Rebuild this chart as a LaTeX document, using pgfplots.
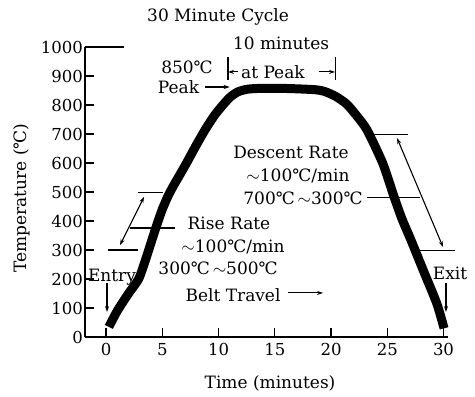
\documentclass[border=0pt]{standalone}
\usepackage{fontspec}
\setmainfont{DejaVu Serif}
\usepackage{pgfplots}
\pgfplotsset{compat=1.18}
\usetikzlibrary{arrows.meta}
\newcommand{\dC}{℃}
\tikzset{
  annot/.style={line width=1.1pt},
  arr/.style={line width=1.1pt, -{Stealth[length=6pt,width=4pt]}},
  darr/.style={line width=1.1pt, {Stealth[length=6pt,width=4pt]}-{Stealth[length=6pt,width=4pt]}},
}
\begin{document}
\begin{tikzpicture}[font=\fontsize{17}{20}\selectfont]
\begin{axis}[
  scale only axis, width=363pt, height=290pt,
  xmin=-1.87, xmax=30.4, ymin=0, ymax=1000,
  axis x line=bottom, axis y line=left,
  axis line style={-, line width=1.2pt},
  xtick={0,5,...,30}, ytick={0,100,...,1000},
  tick align=inside, major tick length=9pt,
  tick style={line width=1.2pt, black},
  clip=false,
  /pgf/number format/assume math mode=true,
  /pgf/number format/1000 sep={},
  ticklabel style={font=\fontsize{16.5}{19}\selectfont},
  yticklabel style={inner sep=2pt},
  xticklabel style={yshift=-3pt},
]
\addplot[black, line width=9pt, smooth, tension=0.4] coordinates {
(0.25,35) (1.0,90) (2.0,150) (2.9,200) (3.5,265) (4.0,325) (4.5,385) (5.0,440)
(5.5,485) (6.0,522) (6.6,562) (7.2,603) (8.0,660) (8.8,714) (9.6,762) (10.3,796)
(11.0,826) (11.7,845) (12.5,854) (13.5,857) (16,857) (18.5,853)
(19.4,847) (20.4,830) (21.4,803) (22.3,762) (23.2,714) (24.6,599) (25.6,484)
(26.3,408) (27.1,335) (28.2,230) (29.4,116) (30.05,30)
};
% longer top tick
\draw[line width=1.8pt] (axis cs:-1.87,1000) -- ++(18pt,0);
% title and labels
\node at (axis cs:9.96,1103) {30 Minute Cycle};
\node at (axis cs:14.58,-159) {Time (minutes)};
\node[rotate=90] at (axis cs:-7.47,479) {Temperature (\dC)};
% peak annotations
\node at (axis cs:7.2,931) {850\dC};
\node at (axis cs:6.44,862) {Peak};
\draw[arr] (axis cs:8.8,862) -- (axis cs:11.0,862);
\node at (axis cs:15.56,1014) {10 minutes};
\node at (axis cs:14.84,914) {at Peak};
\draw[annot] (axis cs:10.84,966) -- (axis cs:10.84,886);
\draw[arr] (axis cs:11.7,914) -- (axis cs:10.84,914);
\draw[annot] (axis cs:20.36,966) -- (axis cs:20.36,886);
\draw[arr] (axis cs:18.9,914) -- (axis cs:20.36,914);
% descent annotations
\node at (axis cs:16.44,636) {Descent Rate};
\node at (axis cs:17.07,554) {$\sim$100\dC/min};
\node at (axis cs:17.51,477) {700\dC$\,\sim$300\dC};
\draw[annot] (axis cs:23.2,480) -- (axis cs:27.91,480);
\draw[annot] (axis cs:23.64,697) -- (axis cs:26.84,697);
\draw[annot] (axis cs:27.73,297) -- (axis cs:31.02,297);
\draw[darr] (axis cs:25.87,686) -- (axis cs:29.96,310);
% rise annotations
\draw[annot] (axis cs:2.84,497) -- (axis cs:5.07,497);
\draw[annot] (axis cs:0.18,300) -- (axis cs:2.84,300);
\draw[darr] (axis cs:3.38,483) -- (axis cs:1.24,317);
\draw[annot] (axis cs:2.13,376) -- (axis cs:6.13,376);
\node at (axis cs:10.93,393) {Rise Rate};
\node at (axis cs:11.29,310) {$\sim$100\dC/min};
\node at (axis cs:9.96,236) {300\dC$\,\sim$500\dC};
% belt travel
\node at (axis cs:11.29,145) {Belt Travel};
\draw[arr] (axis cs:16.2,152) -- (axis cs:19.29,152);
% entry / exit
\node at (axis cs:0.53,207) {Entry};
\draw[arr] (axis cs:0.09,186) -- (axis cs:0.09,86);
\node at (axis cs:30.58,221) {Exit};
\draw[arr] (axis cs:30.22,186) -- (axis cs:30.22,86);
\end{axis}
\pgfresetboundingbox
\path (-85pt,-60pt) rectangle (390pt,337pt);
\end{tikzpicture}
\end{document}
